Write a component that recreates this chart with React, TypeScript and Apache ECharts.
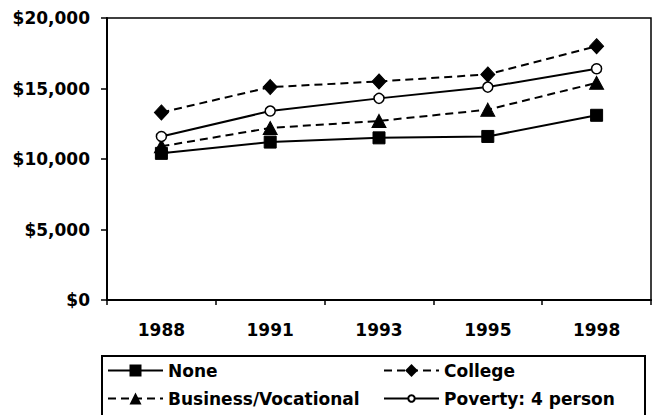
import React, { useEffect, useRef } from "react";
import * as echarts from "echarts";

const years = ["1988", "1991", "1993", "1995", "1998"];
const noneValues = [10400, 11200, 11500, 11600, 13100];
const collegeValues = [13300, 15100, 15500, 16000, 18000];
const businessValues = [10900, 12200, 12700, 13500, 15400];
const povertyValues = [11600, 13400, 14300, 15100, 16400];
const yTicks = [0, 5000, 10000, 15000, 20000];

const FONT = "DejaVu Sans";

export default function App() {
  const ref = useRef<HTMLDivElement>(null);
  useEffect(() => {
    document.body.style.margin = "0";
    const chart = echarts.init(ref.current!, null, { renderer: "svg" });
    const textStyle = { color: "#000", fontFamily: FONT, fontWeight: "bold" as const, fontSize: 17 };
    const legendBase = {
      itemWidth: 55,
      itemGap: 0,
      textStyle: { ...textStyle, padding: [0, 0, 0, 0] },
      padding: 0,
      selectedMode: false,
      orient: "horizontal" as const,
    };
    chart.setOption({
      animation: false,
      backgroundColor: "#fff",
      grid: {
        left: 107,
        right: 3,
        top: 18,
        bottom: 115,
        show: true,
        borderColor: "#000",
        borderWidth: 1.5,
        backgroundColor: "transparent",
      },
      xAxis: {
        type: "category",
        data: years,
        boundaryGap: true,
        axisLine: { lineStyle: { color: "#000", width: 2 } },
        axisTick: { show: true, length: 5, inside: false, lineStyle: { color: "#000", width: 1.5 } },
        axisLabel: { ...textStyle, margin: 21 },
        splitLine: { show: false },
      },
      yAxis: {
        type: "value",
        min: yTicks[0],
        max: yTicks[yTicks.length - 1],
        interval: 5000,
        axisLine: { show: true, lineStyle: { color: "#000", width: 2 } },
        axisTick: { show: true, length: 6, lineStyle: { color: "#000", width: 1.5 } },
        axisLabel: {
          ...textStyle,
          margin: 17,
          formatter: (v: number) => "$" + v.toLocaleString("en-US"),
        },
        splitLine: { show: false },
      },
      legend: [
        { ...legendBase, itemHeight: 15, left: 107, top: 362, data: ["None"] },
        { ...legendBase, itemHeight: 16, left: 383, top: 362, data: ["College"] },
        { ...legendBase, itemHeight: 15, left: 107, top: 390, data: ["Business/Vocational"] },
        { ...legendBase, itemHeight: 8, left: 383, top: 390, data: ["Poverty: 4 person"] },
      ],
      graphic: [
        {
          type: "rect",
          shape: { x: 102, y: 356, width: 543, height: 80 },
          style: { fill: "none", stroke: "#000", lineWidth: 2 },
          z: 0,
        },
      ],
      series: [
        {
          name: "None",
          type: "line",
          data: noneValues,
          symbol: "rect",
          symbolSize: 12,
          itemStyle: { color: "#000", borderColor: "#000" },
          lineStyle: { color: "#000", width: 2, type: "solid" },
        },
        {
          name: "College",
          type: "line",
          data: collegeValues,
          symbol: "diamond",
          symbolSize: [14, 15],
          itemStyle: { color: "#000", borderColor: "#000" },
          lineStyle: { color: "#000", width: 2, type: [8, 5] },
        },
        {
          name: "Business/Vocational",
          type: "line",
          data: businessValues,
          symbol: "triangle",
          symbolSize: [14, 13],
          itemStyle: { color: "#000", borderColor: "#000" },
          lineStyle: { color: "#000", width: 2, type: [8, 5] },
        },
        {
          name: "Poverty: 4 person",
          type: "line",
          data: povertyValues,
          symbol: "circle",
          symbolSize: 10,
          itemStyle: { color: "#fff", borderColor: "#000", borderWidth: 1.5 },
          lineStyle: { color: "#000", width: 2, type: "solid" },
        },
      ],
    });
    return () => chart.dispose();
  }, []);
  return <div ref={ref} style={{ width: 654, height: 415 }} />;
}
